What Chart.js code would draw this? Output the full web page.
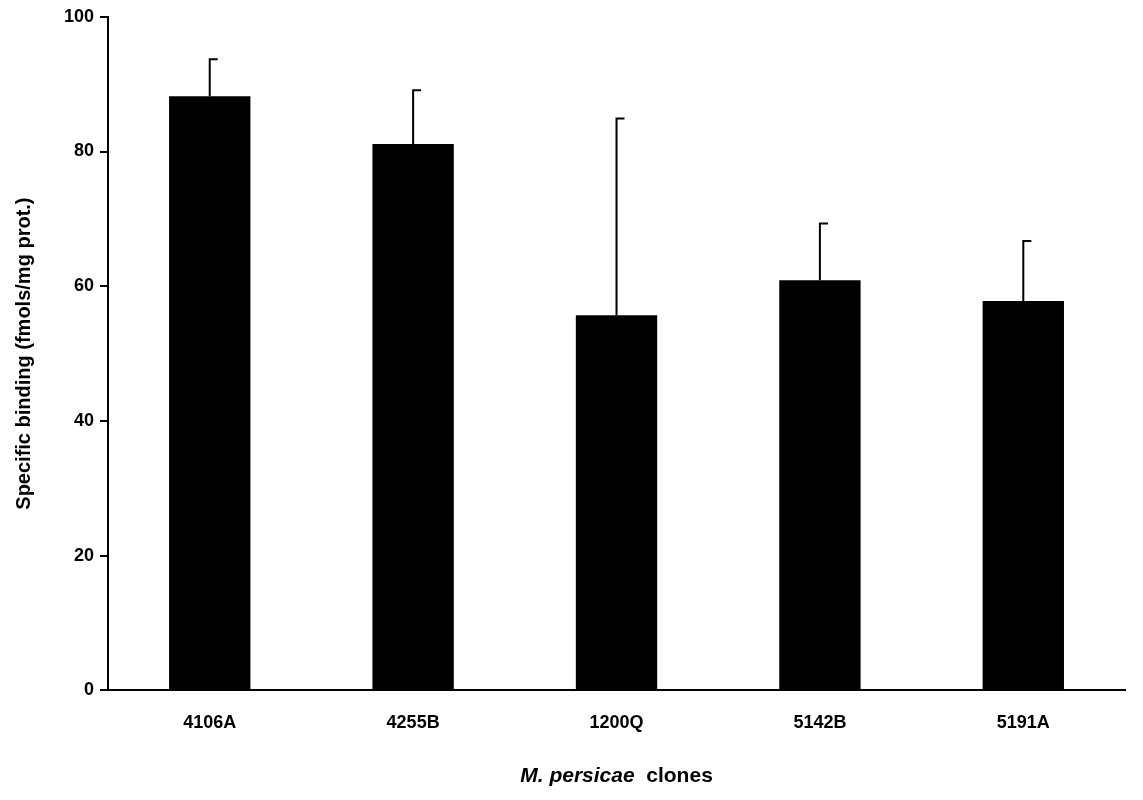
<!DOCTYPE html>
<html><head><meta charset="utf-8">
<script src="https://cdn.jsdelivr.net/npm/chart.js@4"></script>
<style>body{margin:0;background:#fff}#w{width:1143px;height:800px}</style>
</head><body><div id="w"><canvas id="c"></canvas></div>
<script>
const categories=['4106A','4255B','1200Q','5142B','5191A'];
const means=[88.2,81.1,55.7,60.9,57.8];
const errTops=[93.7,89.1,84.9,69.3,66.7];
const yTicks=[0,20,40,60,80,100];
const F='"Liberation Sans", Arial, sans-serif';
const errPlugin={id:'err',afterDatasetsDraw(ch){
  const ctx=ch.ctx,x=ch.scales.x,y=ch.scales.y;
  ctx.save();ctx.strokeStyle='#000';ctx.lineWidth=2;
  categories.forEach((c,i)=>{
    const px=x.getPixelForValue(i),p0=y.getPixelForValue(means[i]),p1=y.getPixelForValue(errTops[i]);
    ctx.beginPath();ctx.moveTo(px,p0);ctx.lineTo(px,p1);ctx.moveTo(px-1,p1);ctx.lineTo(px+8,p1);ctx.stroke();
  });
  // x title with italic part
  const a='M. persicae',b='  clones';
  ctx.fillStyle='#000';ctx.textBaseline='alphabetic';
  ctx.font='italic bold 21px '+F;const wa=ctx.measureText(a).width;
  ctx.font='bold 21px '+F;const wb=ctx.measureText(b).width;
  const cx=(ch.chartArea.left+ch.chartArea.right)/2, sx=cx-(wa+wb)/2;
  ctx.font='italic bold 21px '+F;ctx.fillText(a,sx,782);
  ctx.font='bold 21px '+F;ctx.fillText(b,sx+wa,782);
  ctx.restore();
}};
new Chart(document.getElementById('c'),{
  type:'bar',
  data:{labels:categories,datasets:[{data:means,backgroundColor:'#000',barPercentage:0.4,categoryPercentage:1}]},
  options:{responsive:true,maintainAspectRatio:false,animation:false,
    layout:{padding:{top:12,right:18,bottom:52,left:8}},
    plugins:{legend:{display:false},tooltip:{enabled:false}},
    scales:{
      x:{grid:{display:false,drawTicks:true},border:{color:'#000',width:2},
        ticks:{color:'#000',font:{family:F,size:18,weight:'bold'},padding:14}},
      y:{min:0,max:100,afterBuildTicks(s){s.ticks=yTicks.map(v=>({value:v}));},
        grid:{display:true,drawOnChartArea:false,color:'#000',lineWidth:2,tickLength:8},
        border:{color:'#000',width:2},
        ticks:{color:'#000',font:{family:F,size:18,weight:'bold'},padding:6},
        title:{display:true,text:'Specific binding (fmols/mg prot.)',color:'#000',font:{family:F,size:20,weight:'bold'},padding:{bottom:22}}}
    }},
  plugins:[errPlugin]
});
</script></body></html>
